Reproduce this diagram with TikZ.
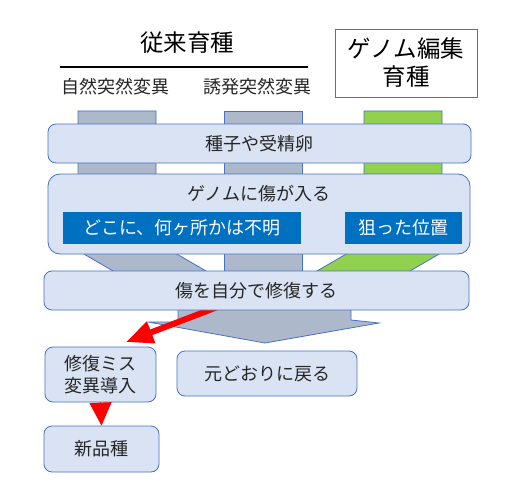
\documentclass[tikz,border=0pt]{standalone}
\usepackage{fontspec}
\setmainfont{Noto Sans CJK JP}
\usetikzlibrary{arrows.meta}

\begin{document}
\begin{tikzpicture}[x=1pt,y=-1pt,
  box/.style={draw=colBordo, fill=colBox, line width=0.8pt, rounded corners=8pt,
    inner sep=0pt, text=colTesto, font=\fontsize{18pt}{22pt}\selectfont},
  tag/.style={fill=colBlu, inner sep=0pt, text=white, font=\fontsize{18pt}{22pt}\selectfont},
  sub/.style={text=colTesto, font=\fontsize{18pt}{22pt}\selectfont},
  flow/.style={draw=colBordo, line width=0.8pt, line join=miter},
  redarrow/.style={draw=red, -{Triangle[length=27pt,width=22pt]}, line width=6pt}]

% Colori
\definecolor{colBox}{HTML}{DAE3F3}
\definecolor{colBordo}{HTML}{4472C4}
\definecolor{colGrigio}{HTML}{ADB9CA}
\definecolor{colVerde}{HTML}{92D050}
\definecolor{colBlu}{HTML}{0070C0}
\definecolor{colTesto}{HTML}{262626}

\useasboundingbox (0,0) rectangle (524,500);

% Titoli
\node[font=\fontsize{23.5pt}{28pt}\selectfont] (conv) at (187,43) {従来育種};
\draw[line width=2pt] (60,67) -- (308,67);
\node[sub] (nat) at (115,87) {自然突然変異};
\node[sub] (ind) at (257,87) {誘発突然変異};
\node[draw=colBordo, fill=white, line width=0.8pt, minimum width=142pt, minimum height=68pt,
  inner sep=0pt, align=center, font=\fontsize{23.5pt}{28pt}\selectfont] (ge) at (406,63) {ゲノム編集\\育種};

% Frecce grigie e verde
\path[flow, fill=colGrigio] (78,111) -- (156,111) -- (156,241.9) -- (238.7,290)
  -- (145.7,290) -- (78,250.6) -- cycle;
\path[flow, fill=colVerde] (364,111) -- (442,111) -- (442,252.4) -- (377.3,290)
  -- (284.3,290) -- (364,243.7) -- cycle;
\path[flow, fill=colGrigio] (224,111) rectangle (302,290);
\path[flow, fill=colGrigio] (178,285) -- (351,285) -- (351,320) -- (379,323)
  -- (265,343) -- (148,322) -- (178,322) -- cycle;

% Freccia rossa (errore)
\coordinate (rfrom) at (220,306);
\coordinate (rto) at (126,342);
\draw[redarrow] (rfrom) -- (rto);

% Riquadri
\node[box, minimum width=423pt, minimum height=39pt] (seed) at (259.5,143.5) {種子や受精卵};
\node[box, rounded corners=12pt, minimum width=422pt, minimum height=80pt] (dmg) at (259,214) {};
\node[sub] (dmgtxt) at (259,194) {ゲノムに傷が入る};
\node[tag, minimum width=238pt, minimum height=32pt] (where) at (182,228) {どこに、何ヶ所かは不明};
\node[tag, minimum width=117pt, minimum height=32pt] (aim) at (403.5,228) {狙った位置};
\node[box, minimum width=425pt, minimum height=39pt] (repair) at (256.5,290.5) {傷を自分で修復する};
\node[box, minimum width=111pt, minimum height=55pt, align=center] (mis) at (100.5,374.5) {修復ミス\\変異導入};
\node[box, minimum width=180pt, minimum height=45pt] (back) at (267,373.5) {元どおりに戻る};
\node[box, minimum width=115pt, minimum height=46pt] (new) at (101.5,449) {新品種};

\draw[draw=red, -{Triangle[length=23pt,width=22pt]}, line width=1pt] (mis.south) -- (new.north);
\end{tikzpicture}
\end{document}
